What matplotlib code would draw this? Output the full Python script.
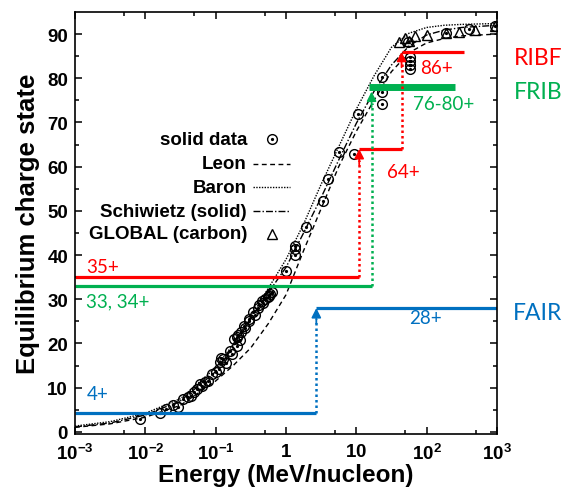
import matplotlib
matplotlib.use("Agg")
import matplotlib.pyplot as plt
import numpy as np

# ---------------- data ----------------
curve_E = [0.001, 0.00316, 0.01, 0.0316, 0.1, 0.178, 0.316, 0.562, 1.0, 1.78,
           3.16, 5.62, 10.0, 17.8, 31.6, 56.2, 100.0, 178.0, 316.0, 1000.0]
leon_q = [1.0, 1.8, 3.3, 6.0, 11.5, 15.0, 19.0, 24.5, 31.0, 41.0,
          50.5, 60.0, 68.0, 75.0, 81.5, 85.8, 88.0, 89.0, 89.6, 90.0]
baron_q = [1.3, 2.3, 4.2, 7.5, 14.5, 19.8, 26.0, 32.5, 39.0, 47.0,
           56.0, 64.5, 73.0, 80.5, 87.0, 90.2, 91.5, 92.0, 92.2, 92.4]
schiwietz_q = [1.1, 2.0, 3.8, 7.0, 13.6, 19.2, 25.6, 31.5, 37.2, 45.0,
               53.0, 61.5, 69.8, 77.0, 83.0, 87.3, 89.8, 90.9, 91.5, 92.0]

solid_E = [0.0085, 0.0164, 0.0195, 0.0245, 0.0295, 0.034, 0.041, 0.045, 0.05,
           0.055, 0.06, 0.065, 0.07, 0.078, 0.09, 0.10, 0.11, 0.117, 0.12, 0.129,
           0.14, 0.162, 0.17, 0.182, 0.20, 0.204, 0.21, 0.22, 0.229, 0.25, 0.26,
           0.295, 0.30, 0.34, 0.36, 0.40, 0.42, 0.45, 0.47, 0.51, 0.55, 0.575,
           0.60, 0.63, 1.0, 1.35, 1.35, 1.35, 1.95, 3.4, 3.9, 5.75, 9.3, 10.7,
           23.4, 22.9, 22.9, 55.0, 57.5, 57.5, 57.5, 57.5, 186.0, 407.0, 933.0]
solid_q = [2.9, 4.3, 5.2, 6.1, 5.7, 7.5, 7.9, 8.2, 9.0,
           9.7, 10.8, 10.4, 11.2, 11.5, 13.0, 13.6, 14.3, 15.8, 16.8, 16.5,
           15.5, 18.3, 17.5, 21.0, 19.5, 21.5, 21.8, 20.8, 22.6, 24.0, 23.5,
           25.6, 25.0, 27.1, 26.5, 28.0, 28.6, 29.5, 29.2, 30.1, 30.5, 30.8,
           31.2, 31.7, 36.4, 40.0, 41.4, 42.0, 46.4, 52.3, 57.2, 63.3, 62.9, 72.0,
           80.3, 77.0, 74.2, 88.2, 84.8, 83.9, 83.0, 82.1, 90.3, 91.2, 91.8]

global_E = [40.0, 49.0, 56.0, 68.0, 100.0, 186.0, 290.0, 490.0, 933.0]
global_q = [88.2, 89.1, 88.5, 89.6, 89.8, 90.2, 90.5, 90.9, 91.8]

legend_labels = ["solid data", "Leon", "Baron", "Schiwietz (solid)", "GLOBAL (carbon)"]

# facility steps
fair_E = [2.7]
fair_q = [4.2, 28]
ribf_E = [11.0, 44.0]
ribf_q = [35, 64, 86]
frib_E = [16.5]
frib_q = [33, 78]
fair_end, ribf_end, frib_end = 1000.0, 340.0, 250.0

xtick_vals = [1e-3, 1e-2, 1e-1, 1, 10, 1e2, 1e3]
xtick_labels = [r"$\mathbf{10^{-3}}$", r"$\mathbf{10^{-2}}$", r"$\mathbf{10^{-1}}$",
                r"$\mathbf{1}$", r"$\mathbf{10}$", r"$\mathbf{10^{2}}$", r"$\mathbf{10^{3}}$"]
ytick_vals = list(range(0, 91, 10))

RED = "#FF0000"
GREEN = "#00B050"
BLUE = "#0070C0"

plt.rcParams["font.family"] = ["Liberation Sans", "DejaVu Sans"]
plt.rcParams["mathtext.fontset"] = "custom"
plt.rcParams["mathtext.rm"] = "Liberation Sans"
plt.rcParams["mathtext.bf"] = "Liberation Sans:bold"

fig = plt.figure(figsize=(5.66, 4.89), dpi=100)
ax = fig.add_axes([0.1325, 0.1104, 0.7455, 0.863])

ax.set_xscale("log")
ax.set_xlim(1e-3, 1e3)
ax.set_ylim(-0.5, 95)

# curves
ax.plot(curve_E, leon_q, color="black", lw=1.0, ls=(0, (3.5, 2.5)))
ax.plot(curve_E, baron_q, color="black", lw=1.0, ls=(0, (1, 1)))
ax.plot(curve_E, schiwietz_q, color="black", lw=1.0, ls=(0, (5, 1.5, 1, 1.5)))

# data
ax.plot(solid_E, solid_q, ls="none", marker="o", ms=7, mfc="none", mec="black", mew=1.0)
ax.plot(solid_E, solid_q, ls="none", marker="o", ms=1.3, mfc="black", mec="black")
ax.plot(global_E, global_q, ls="none", marker="^", ms=7, mfc="none", mec="black", mew=1.0)

# horizontal lines
ax.plot([1e-3, fair_E[0]], [fair_q[0], fair_q[0]], color=BLUE, lw=2.3, solid_capstyle="butt")
ax.plot([fair_E[0], fair_end], [fair_q[1], fair_q[1]], color=BLUE, lw=2.3, solid_capstyle="butt")
ax.plot([1e-3, ribf_E[0]], [ribf_q[0], ribf_q[0]], color=RED, lw=2.3, solid_capstyle="butt")
ax.plot([ribf_E[0], ribf_E[1]], [ribf_q[1], ribf_q[1]], color=RED, lw=2.3, solid_capstyle="butt")
ax.plot([ribf_E[1], ribf_end], [ribf_q[2], ribf_q[2]], color=RED, lw=2.3, solid_capstyle="butt")
ax.plot([1e-3, frib_E[0]], [frib_q[0], frib_q[0]], color=GREEN, lw=2.3, solid_capstyle="butt")
ax.plot([frib_E[0] * 0.93, frib_end], [frib_q[1], frib_q[1]], color=GREEN, lw=5, solid_capstyle="butt")

def varrow(x, y0, y1, c):
    ax.plot([x, x], [y0, y1 - 2.5], color=c, lw=1.8, ls=(0, (1, 1.2)))
    ax.annotate("", xy=(x, y1), xytext=(x, y1 - 3.5),
                arrowprops=dict(arrowstyle="-|>,head_length=0.55,head_width=0.28",
                                color=c, lw=1.3, shrinkA=0, shrinkB=0))

varrow(fair_E[0], fair_q[0], fair_q[1], BLUE)
varrow(ribf_E[0], ribf_q[0], ribf_q[1], RED)
varrow(ribf_E[1], ribf_q[1], ribf_q[2], RED)
varrow(frib_E[0], frib_q[0], frib_q[1] - 1.0, GREEN)

# labels
lf = dict(family=["Lato", "DejaVu Sans"], fontsize=13.5, va="center", ha="left")
ax.text(1.45e-3, 37.3, "35+", color=RED, **lf)
ax.text(1.45e-3, 29.6, "33, 34+", color=GREEN, **lf)
ax.text(1.45e-3, 8.6, "4+", color=BLUE, **lf)
ax.text(27, 58.8, "64+", color=RED, **lf)
ax.text(80, 82.5, "86+", color=RED, **lf)
ax.text(64, 74.2, "76-80+", color=GREEN, **lf)
ax.text(56, 25.8, "28+", color=BLUE, **lf)
bf = dict(family=["Lato", "DejaVu Sans"], fontsize=16.5, va="center", ha="left", clip_on=False)
ax.text(1.75e3, 84.8, "RIBF", color=RED, **bf)
ax.text(1.75e3, 77.0, "FRIB", color=GREEN, **bf)
ax.text(1.7e3, 27.0, "FAIR", color=BLUE, **bf)

# legend (manual)
rows_y = [0.699, 0.640, 0.585, 0.528, 0.474]
tx = 0.4076
for yy, lab in zip(rows_y, legend_labels):
    ax.text(tx, yy, lab, transform=ax.transAxes, ha="right", va="center",
            fontsize=13.5, fontweight="bold")
h0, h1, hm = 0.4218, 0.5095, 0.467
ax.plot([hm], [rows_y[0]], transform=ax.transAxes, marker="o", ms=7, mfc="none",
        mec="black", mew=1.0, ls="none")
ax.plot([hm], [rows_y[0]], transform=ax.transAxes, marker="o", ms=1.3, mfc="black",
        mec="black", ls="none")
ax.plot([h0, h1], [rows_y[1]] * 2, transform=ax.transAxes, color="black", lw=1.0, ls=(0, (3.5, 2.5)))
ax.plot([h0, h1], [rows_y[2]] * 2, transform=ax.transAxes, color="black", lw=1.0, ls=(0, (1, 1)))
ax.plot([h0, h1], [rows_y[3]] * 2, transform=ax.transAxes, color="black", lw=1.0, ls=(0, (5, 1.5, 1, 1.5)))
ax.plot([hm], [rows_y[4]], transform=ax.transAxes, marker="^", ms=7, mfc="none",
        mec="black", mew=1.0, ls="none")

# axes styling
ax.set_xticks(xtick_vals)
ax.set_xticklabels(xtick_labels)
ax.set_xticks([5 * v for v in xtick_vals[:-1]], minor=True)
ax.xaxis.set_minor_formatter(matplotlib.ticker.NullFormatter())
ax.set_yticks(ytick_vals)
ax.set_yticklabels([str(v) for v in ytick_vals])
ax.set_yticks(list(range(5, 95, 10)), minor=True)
ax.tick_params(which="both", direction="in", top=True, right=True, width=1.1)
ax.tick_params(which="major", length=5, labelsize=13.5)
ax.tick_params(axis="x", which="major", pad=6.5)
ax.tick_params(axis="y", which="major", pad=5)
ax.tick_params(which="minor", length=3)
for lab in ax.get_yticklabels():
    lab.set_fontweight("bold")
for sp in ax.spines.values():
    sp.set_linewidth(1.2)

ax.set_xlabel("Energy (MeV/nucleon)", fontsize=17.5, fontweight="bold", labelpad=0)
ax.set_ylabel("Equilibrium charge state", fontsize=18.5, fontweight="bold", labelpad=5)

fig.savefig("out.png", dpi=100)
